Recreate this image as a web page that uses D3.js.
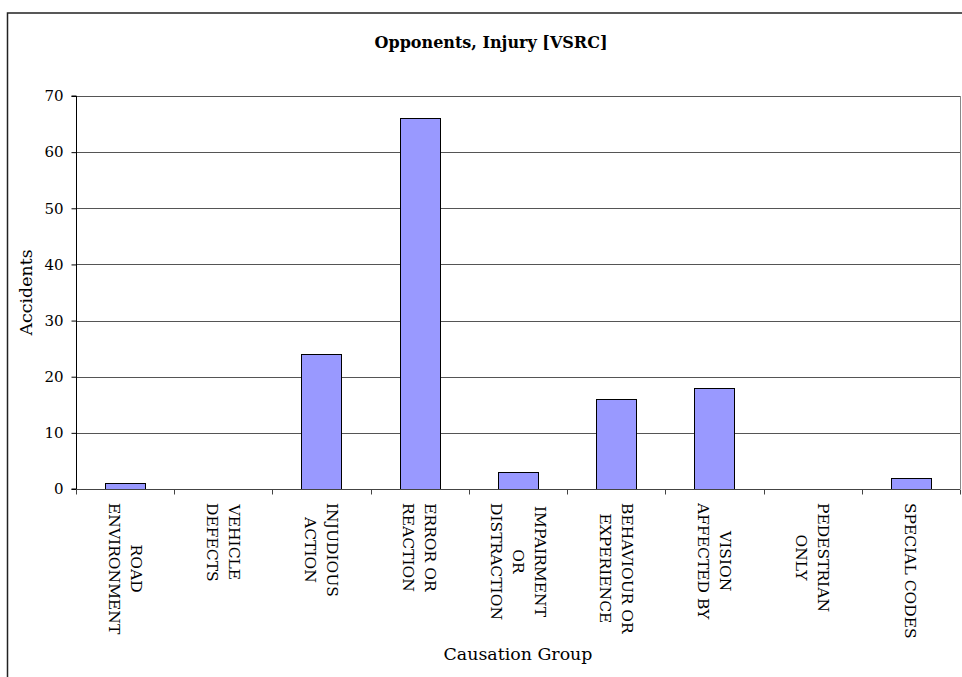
<!DOCTYPE html>
<html>
<head>
<meta charset="utf-8">
<script src="https://cdn.jsdelivr.net/npm/d3@7"></script>
<style>
  body { margin: 0; background: #fff; }
  svg text { font-family: "DejaVu Serif", serif; fill: #000; }
</style>
</head>
<body>
<svg id="chart" width="962" height="677"></svg>
<script>
// values
var categories = ["ROAD\nENVIRONMENT", "VEHICLE\nDEFECTS", "INJUDIOUS\nACTION", "ERROR OR\nREACTION",
  "IMPAIRMENT\nOR\nDISTRACTION", "BEHAVIOUR OR\nEXPERIENCE", "VISION\nAFFECTED BY", "PEDESTRIAN\nONLY", "SPECIAL CODES"];
var accidents = [1, 0, 24, 66, 3, 16, 18, 0, 2];
var yTicks = [0, 10, 20, 30, 40, 50, 60, 70];

var svg = d3.select("#chart");
var margin = { left: 76, right: 2, top: 96, bottom: 188 };
var width = 962, height = 677;

// outer chart frame (runs off the right / bottom like the reference)
svg.append("rect")
  .attr("x", 7.5).attr("y", 13)
  .attr("width", 1000).attr("height", 700)
  .attr("fill", "none")
  .attr("stroke", "#222")
  .attr("stroke-width", 1.5);

var x = d3.scaleBand()
  .domain(categories)
  .range([margin.left, width - margin.right])
  .paddingInner(0.59)
  .paddingOuter(0.295);

var y = d3.scaleLinear()
  .domain([0, 70])
  .range([height - margin.bottom, margin.top]);

// gridlines
svg.append("g")
  .selectAll("line")
  .data(yTicks.filter(function (d) { return d > 0; }))
  .enter()
  .append("line")
  .attr("x1", margin.left).attr("x2", width - margin.right)
  .attr("y1", function (d) { return Math.round(y(d)) + 0.5; })
  .attr("y2", function (d) { return Math.round(y(d)) + 0.5; })
  .attr("stroke", "#555")
  .attr("stroke-width", 1);

// right edge of the plot area
svg.append("line")
  .attr("x1", width - margin.right + 0.5).attr("x2", width - margin.right + 0.5)
  .attr("y1", y(70)).attr("y2", y(0))
  .attr("stroke", "#888");

// bars (zero values draw nothing)
var barData = categories.map(function (c, i) { return { cat: c, value: accidents[i] }; })
  .filter(function (d) { return d.value > 0; });
svg.append("g")
  .selectAll("rect")
  .data(barData)
  .enter()
  .append("rect")
  .attr("x", function (d) { return Math.round(x(d.cat)) + 0.5; })
  .attr("y", function (d) { return Math.round(y(d.value)) + 0.5; })
  .attr("width", Math.round(x.bandwidth()))
  .attr("height", function (d) { return Math.round(y(0)) - Math.round(y(d.value)); })
  .attr("fill", "#9999ff")
  .attr("stroke", "#000")
  .attr("stroke-width", 1);

// y axis
var yAxis = svg.append("g")
  .attr("transform", "translate(" + (margin.left + 0.5) + ",0)")
  .call(d3.axisLeft(y).tickValues(yTicks).tickSize(5).tickPadding(8).tickFormat(d3.format("d")));
yAxis.selectAll("text").style("font-size", "15px").style("font-family", "DejaVu Serif");
yAxis.selectAll("line, path").attr("stroke", "#000");
yAxis.select(".domain").attr("d", "M-5," + y(70) + "H0V" + y(0) + "H-5");

// x axis: baseline and ticks at category boundaries
var step = x.step();
var bounds = d3.range(categories.length + 1).map(function (i) { return margin.left + i * step; });
var yBase = Math.round(y(0)) + 0.5;
svg.append("line")
  .attr("x1", margin.left).attr("x2", width - margin.right)
  .attr("y1", yBase).attr("y2", yBase)
  .attr("stroke", "#444");
svg.append("g")
  .selectAll("line")
  .data(bounds)
  .enter()
  .append("line")
  .attr("x1", function (d) { return Math.round(d) + 0.5; })
  .attr("x2", function (d) { return Math.round(d) + 0.5; })
  .attr("y1", yBase).attr("y2", yBase + 5)
  .attr("stroke", "#444");

// rotated category labels, top-aligned, lines centered on each other
var labelTop = 503, lineGap = 22;
var labels = svg.append("g")
  .selectAll("g")
  .data(categories)
  .enter()
  .append("g")
  .attr("transform", function (d) {
    return "translate(" + (x(d) + x.bandwidth() / 2) + "," + labelTop + ") rotate(90)";
  });
labels.each(function (d) {
  var g = d3.select(this);
  var lines = d.split("\n");
  var texts = lines.map(function (ln, i) {
    return g.append("text")
      .attr("y", (i - (lines.length - 1) / 2) * lineGap)
      .attr("dy", "0.35em")
      .attr("text-anchor", "middle")
      .style("font-size", "15.5px")
      .text(ln);
  });
  var maxLen = d3.max(texts, function (t) { return t.node().getComputedTextLength(); });
  texts.forEach(function (t) { t.attr("x", maxLen / 2); });
});

// titles
svg.append("text")
  .attr("x", 491).attr("y", 48)
  .attr("text-anchor", "middle")
  .style("font-size", "16px")
  .style("font-weight", "bold")
  .text("Opponents, Injury [VSRC]");

svg.append("text")
  .attr("x", (margin.left + width - margin.right) / 2).attr("y", 660)
  .attr("text-anchor", "middle")
  .style("font-size", "17.4px")
  .text("Causation Group");

svg.append("text")
  .attr("transform", "translate(32," + ((y(0) + y(70)) / 2) + ") rotate(-90)")
  .attr("text-anchor", "middle")
  .style("font-size", "17.4px")
  .text("Accidents");
</script>
</body>
</html>
